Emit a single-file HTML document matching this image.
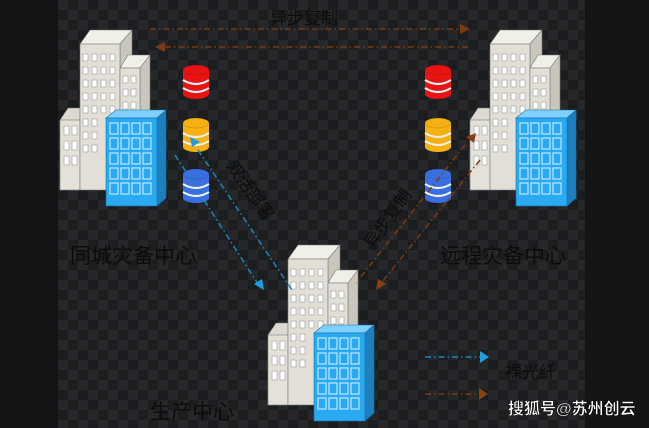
<!DOCTYPE html>
<html><head><meta charset="utf-8"><style>
html,body{margin:0;padding:0;background:#121416;}
svg{display:block;font-family:"Liberation Sans","Noto Sans CJK SC",sans-serif;}
</style></head><body>
<svg width="649" height="428" viewBox="0 0 649 428" xmlns="http://www.w3.org/2000/svg">
<defs>
<pattern id="ck" x="58" y="0" width="20" height="20" patternUnits="userSpaceOnUse">
<rect width="20" height="20" fill="#1b1d1f"/>
<rect width="10" height="10" fill="#25272a"/><rect x="10" y="10" width="10" height="10" fill="#25272a"/>
</pattern>
<g id="wg1"><rect x="0" y="0" width="6" height="8" fill="#fff" stroke="#999" stroke-width="0.6"/></g>
<g id="bld">
 <!-- small left -->
 <polygon points="0,92 8,80 20,80 20,162 0,162" fill="#dcdad0" stroke="#777" stroke-width="0.6"/>
 <rect x="0" y="92" width="20" height="70" fill="#e4e2d8" stroke="#777" stroke-width="0.6"/>
 <g fill="#fff" stroke="#999" stroke-width="0.6">
  <rect x="4" y="98" width="5" height="9"/><rect x="12" y="98" width="5" height="9"/>
  <rect x="4" y="113" width="5" height="9"/><rect x="12" y="113" width="5" height="9"/>
  <rect x="4" y="128" width="5" height="9"/><rect x="12" y="128" width="5" height="9"/>
 </g>
 <!-- tall -->
 <polygon points="20,16 30,2 72,2 60,16" fill="#f0efe8" stroke="#777" stroke-width="0.6"/>
 <polygon points="60,16 72,2 72,150 60,162" fill="#c9c7bb" stroke="#777" stroke-width="0.6"/>
 <rect x="20" y="16" width="40" height="146" fill="#e2e0d6" stroke="#777" stroke-width="0.6"/>
 <g fill="#fff" stroke="#999" stroke-width="0.6">
  <rect x="23" y="26" width="5" height="7"/><rect x="32" y="26" width="5" height="7"/><rect x="41" y="26" width="5" height="7"/><rect x="50" y="26" width="5" height="7"/>
  <rect x="23" y="39" width="5" height="7"/><rect x="32" y="39" width="5" height="7"/><rect x="41" y="39" width="5" height="7"/><rect x="50" y="39" width="5" height="7"/>
  <rect x="23" y="52" width="5" height="7"/><rect x="32" y="52" width="5" height="7"/><rect x="41" y="52" width="5" height="7"/><rect x="50" y="52" width="5" height="7"/>
  <rect x="23" y="65" width="5" height="7"/><rect x="32" y="65" width="5" height="7"/><rect x="41" y="65" width="5" height="7"/><rect x="50" y="65" width="5" height="7"/>
  <rect x="23" y="78" width="5" height="7"/><rect x="32" y="78" width="5" height="7"/><rect x="41" y="78" width="5" height="7"/><rect x="50" y="78" width="5" height="7"/>
  <rect x="23" y="91" width="5" height="7"/><rect x="32" y="91" width="5" height="7"/>
  <rect x="23" y="104" width="5" height="7"/><rect x="32" y="104" width="5" height="7"/>
  <rect x="23" y="117" width="5" height="7"/><rect x="32" y="117" width="5" height="7"/>
 </g>
 <!-- small right -->
 <polygon points="60,40 68,27 90,27 80,40" fill="#f0efe8" stroke="#777" stroke-width="0.6"/>
 <polygon points="80,40 90,27 90,130 80,140" fill="#c9c7bb" stroke="#777" stroke-width="0.6"/>
 <rect x="60" y="40" width="20" height="100" fill="#e2e0d6" stroke="#777" stroke-width="0.6"/>
 <g fill="#fff" stroke="#999" stroke-width="0.6">
  <rect x="63" y="48" width="5" height="7"/><rect x="71" y="48" width="5" height="7"/>
  <rect x="63" y="61" width="5" height="7"/><rect x="71" y="61" width="5" height="7"/>
  <rect x="63" y="74" width="5" height="7"/><rect x="71" y="74" width="5" height="7"/>
 </g>
 <!-- blue -->
 <polygon points="46,90 56,82 106,82 97,90" fill="#7fd0ff" stroke="#1a6e9e" stroke-width="0.6"/>
 <polygon points="97,90 106,82 106,170 97,178" fill="#1b7fc0" stroke="#1a6e9e" stroke-width="0.6"/>
 <rect x="46" y="90" width="51" height="88" fill="#29aaf2" stroke="#1a6e9e" stroke-width="0.6"/>
 <g fill="#2aa8f0" stroke="#bfe8ff" stroke-width="1.2">
  <rect x="50" y="95" width="8" height="11"/><rect x="61" y="95" width="8" height="11"/><rect x="72" y="95" width="8" height="11"/><rect x="83" y="95" width="8" height="11"/>
  <rect x="50" y="110" width="8" height="11"/><rect x="61" y="110" width="8" height="11"/><rect x="72" y="110" width="8" height="11"/><rect x="83" y="110" width="8" height="11"/>
  <rect x="50" y="125" width="8" height="11"/><rect x="61" y="125" width="8" height="11"/><rect x="72" y="125" width="8" height="11"/><rect x="83" y="125" width="8" height="11"/>
  <rect x="50" y="140" width="8" height="11"/><rect x="61" y="140" width="8" height="11"/><rect x="72" y="140" width="8" height="11"/><rect x="83" y="140" width="8" height="11"/>
  <rect x="50" y="155" width="8" height="11"/><rect x="61" y="155" width="8" height="11"/><rect x="72" y="155" width="8" height="11"/><rect x="83" y="155" width="8" height="11"/>
 </g>
</g>
<g id="cyl">
 <rect x="0" y="6" width="26" height="24" fill="currentColor"/>
 <ellipse cx="13" cy="30" rx="13" ry="5" fill="currentColor"/>
 <path d="M0,16 Q13,24 26,16" stroke="#eee" stroke-width="2.2" fill="none"/>
 <path d="M0,24 Q13,32 26,24" stroke="#eee" stroke-width="2.2" fill="none"/>
 <ellipse cx="13" cy="6" rx="13" ry="5" fill="currentColor" stroke="#0003" stroke-width="0.5"/>
</g>
</defs>
<rect x="58" y="0" width="527" height="428" fill="url(#ck)"/>

<use href="#bld" x="60" y="28"/>
<use href="#bld" x="470" y="28"/>
<use href="#bld" x="268" y="243"/>

<use href="#cyl" x="183" y="64" style="color:#e81414"/>
<use href="#cyl" x="183" y="117" style="color:#f5b012"/>
<use href="#cyl" x="183" y="168" style="color:#3a6fe0"/>
<use href="#cyl" x="425" y="64" style="color:#e81414"/>
<use href="#cyl" x="425" y="117" style="color:#f5b012"/>
<use href="#cyl" x="425" y="168" style="color:#3a6fe0"/>

<g fill="none" stroke-width="1.5" stroke-dasharray="6,3,1.5,3">
 <line x1="150" y1="29" x2="462" y2="29" stroke="#7a3a12"/>
 <line x1="165" y1="47" x2="470" y2="47" stroke="#7a3a12"/>
 <line x1="175" y1="155" x2="258" y2="284" stroke="#1a86b8"/>
 <line x1="198" y1="150" x2="292" y2="290" stroke="#1a86b8"/>
 <line x1="465" y1="145" x2="356" y2="283" stroke="#7a3a12"/>
 <line x1="480" y1="160" x2="382" y2="282" stroke="#7a3a12"/>
 <line x1="425" y1="357" x2="480" y2="357" stroke="#1a86b8"/>
 <line x1="425" y1="394" x2="480" y2="394" stroke="#7a3a12"/>
</g>
<polygon points="470,29 460,24 460,34" fill="#7a3a12"/>
<polygon points="155,47 165,42 165,52" fill="#7a3a12"/>
<polygon points="264,290 254,284 262,279" fill="#1aa0e0"/>
<polygon points="190,137 200,142 192,147" fill="#1aa0e0"/>
<polygon points="376,290 378,279 386,284" fill="#8a4010"/>
<polygon points="476,133 466,137 474,143" fill="#8a4010"/>
<polygon points="489,357 480,351 480,363" fill="#1aa0e0"/>
<polygon points="488,394 479,388 479,400" fill="#8a4010"/>

<g fill="#0c0c0c" font-size="21">
 <text x="70" y="263">同城灾备中心</text>
 <text x="440" y="263">远程灾备中心</text>
 <text x="150" y="419">生产中心</text>
 <text x="270" y="24" font-size="17">异步复制</text>
 <text x="505" y="378" font-size="17">裸光纤</text>
 <text transform="translate(226,166) rotate(55)" font-size="17">双活部署</text>
 <text transform="translate(373,250) rotate(-55)" font-size="17">异步复制</text>
</g>
<text x="508" y="414" fill="#fff" font-size="16" font-weight="bold" stroke="#000" stroke-width="0.4">搜狐号@苏州创云</text>
</svg>
</body></html>
